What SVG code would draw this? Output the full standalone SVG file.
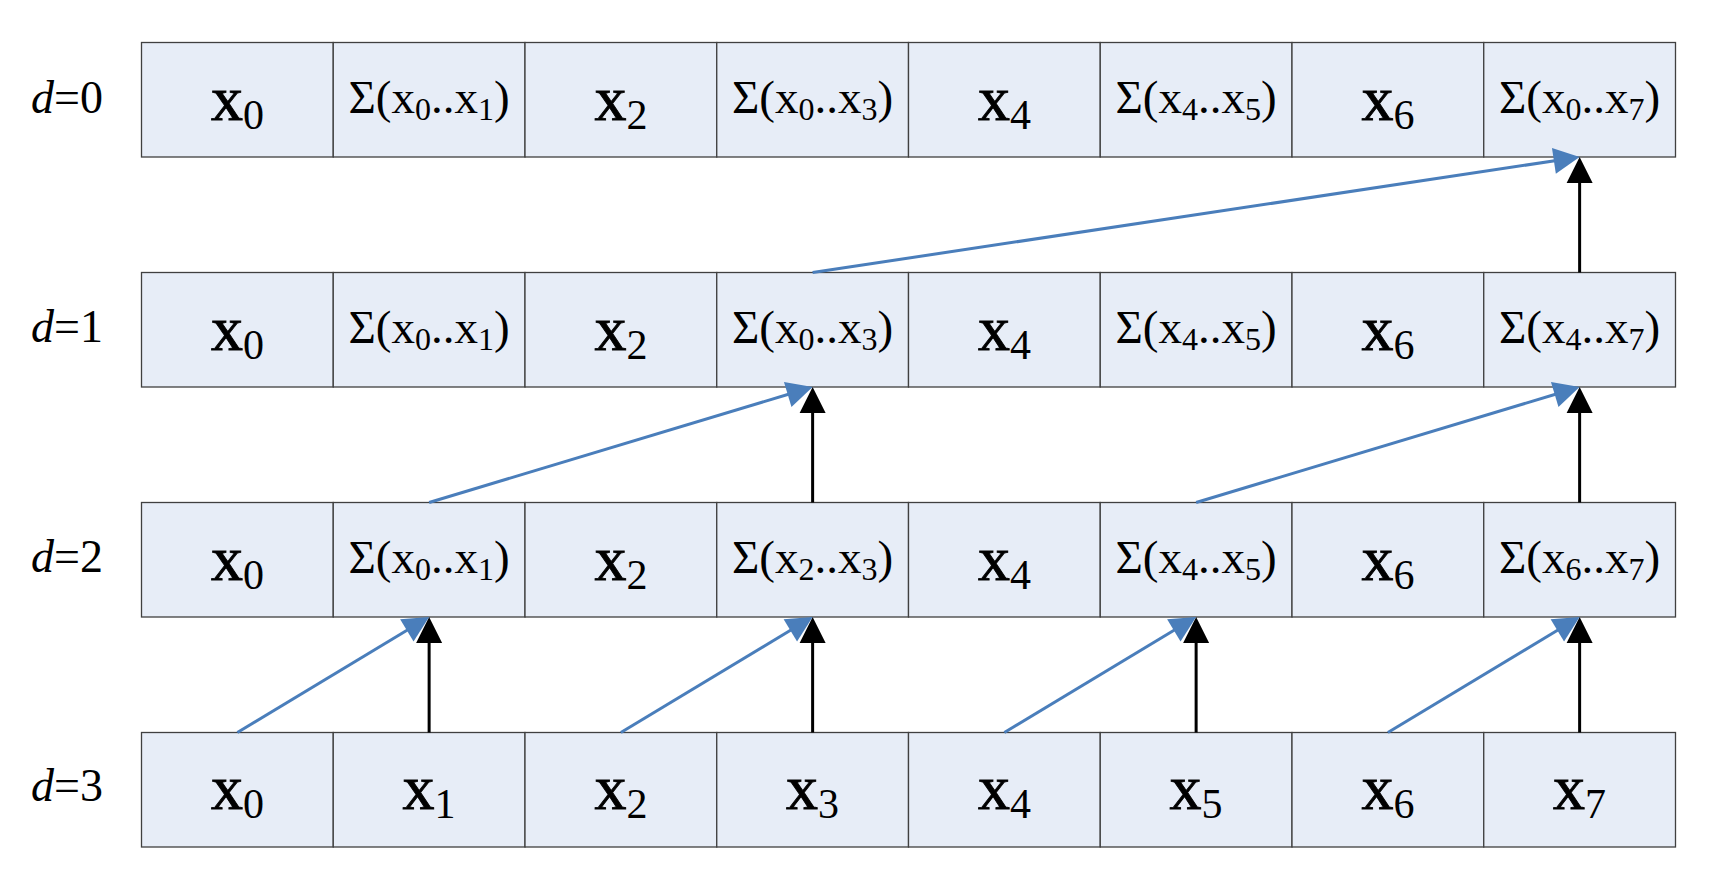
<svg xmlns="http://www.w3.org/2000/svg" width="1718" height="886" viewBox="0 0 1718 886">
<style>
.cell{fill:#E7EDF7;stroke:#404040;stroke-width:1.3}
.t{font-family:"Liberation Serif","Times New Roman",serif;fill:#000;text-anchor:middle}
.bx{font-size:64px;stroke:#000;stroke-width:0.9}
.bs{font-size:42px}
.sx{font-size:47px}
.ss{font-size:32px}
.lbl{font-family:"Liberation Serif","Times New Roman",serif;font-size:46px;fill:#000}
.blue{stroke:#4A7EBB;stroke-width:3;fill:none;marker-end:url(#ab)}
.black{stroke:#000;stroke-width:3;fill:none;marker-end:url(#ak)}
</style>
<defs>
<marker id="ab" markerUnits="userSpaceOnUse" markerWidth="26" markerHeight="26" refX="6" refY="13" orient="auto" overflow="visible"><path d="M0,0 L26,13 L0,26 Z" fill="#4A7EBB"/></marker>
<marker id="ak" markerUnits="userSpaceOnUse" markerWidth="26" markerHeight="26" refX="6" refY="13" orient="auto" overflow="visible"><path d="M0,0 L26,13 L0,26 Z" fill="#000"/></marker>
</defs>
<rect width="1718" height="886" fill="#fff"/>

<g id="labels">
<text class="lbl" x="31" y="113"><tspan font-style="italic">d</tspan>=0</text>
<text class="lbl" x="31" y="342"><tspan font-style="italic">d</tspan>=1</text>
<text class="lbl" x="31" y="572"><tspan font-style="italic">d</tspan>=2</text>
<text class="lbl" x="31" y="801"><tspan font-style="italic">d</tspan>=3</text>
</g>

<g id="row0">
<rect class="cell" x="141.5" y="42.5" width="191.75" height="114.5"/>
<rect class="cell" x="333.25" y="42.5" width="191.75" height="114.5"/>
<rect class="cell" x="525" y="42.5" width="191.75" height="114.5"/>
<rect class="cell" x="716.75" y="42.5" width="191.75" height="114.5"/>
<rect class="cell" x="908.5" y="42.5" width="191.75" height="114.5"/>
<rect class="cell" x="1100.25" y="42.5" width="191.75" height="114.5"/>
<rect class="cell" x="1292" y="42.5" width="191.75" height="114.5"/>
<rect class="cell" x="1483.75" y="42.5" width="191.75" height="114.5"/>
<text class="t" x="237.4" y="119.5"><tspan class="bx">x</tspan><tspan class="bs" dy="9">0</tspan></text>
<text class="t" x="429.1" y="113"><tspan class="sx">Σ(x</tspan><tspan class="ss" dy="7">0</tspan><tspan class="sx" dy="-7">..x</tspan><tspan class="ss" dy="7">1</tspan><tspan class="sx" dy="-7">)</tspan></text>
<text class="t" x="620.9" y="119.5"><tspan class="bx">x</tspan><tspan class="bs" dy="9">2</tspan></text>
<text class="t" x="812.6" y="113"><tspan class="sx">Σ(x</tspan><tspan class="ss" dy="7">0</tspan><tspan class="sx" dy="-7">..x</tspan><tspan class="ss" dy="7">3</tspan><tspan class="sx" dy="-7">)</tspan></text>
<text class="t" x="1004.4" y="119.5"><tspan class="bx">x</tspan><tspan class="bs" dy="9">4</tspan></text>
<text class="t" x="1196.1" y="113"><tspan class="sx">Σ(x</tspan><tspan class="ss" dy="7">4</tspan><tspan class="sx" dy="-7">..x</tspan><tspan class="ss" dy="7">5</tspan><tspan class="sx" dy="-7">)</tspan></text>
<text class="t" x="1387.9" y="119.5"><tspan class="bx">x</tspan><tspan class="bs" dy="9">6</tspan></text>
<text class="t" x="1579.6" y="113"><tspan class="sx">Σ(x</tspan><tspan class="ss" dy="7">0</tspan><tspan class="sx" dy="-7">..x</tspan><tspan class="ss" dy="7">7</tspan><tspan class="sx" dy="-7">)</tspan></text>
</g>

<g id="row1">
<rect class="cell" x="141.5" y="272.5" width="191.75" height="114.5"/>
<rect class="cell" x="333.25" y="272.5" width="191.75" height="114.5"/>
<rect class="cell" x="525" y="272.5" width="191.75" height="114.5"/>
<rect class="cell" x="716.75" y="272.5" width="191.75" height="114.5"/>
<rect class="cell" x="908.5" y="272.5" width="191.75" height="114.5"/>
<rect class="cell" x="1100.25" y="272.5" width="191.75" height="114.5"/>
<rect class="cell" x="1292" y="272.5" width="191.75" height="114.5"/>
<rect class="cell" x="1483.75" y="272.5" width="191.75" height="114.5"/>
<text class="t" x="237.4" y="349.5"><tspan class="bx">x</tspan><tspan class="bs" dy="9">0</tspan></text>
<text class="t" x="429.1" y="343"><tspan class="sx">Σ(x</tspan><tspan class="ss" dy="7">0</tspan><tspan class="sx" dy="-7">..x</tspan><tspan class="ss" dy="7">1</tspan><tspan class="sx" dy="-7">)</tspan></text>
<text class="t" x="620.9" y="349.5"><tspan class="bx">x</tspan><tspan class="bs" dy="9">2</tspan></text>
<text class="t" x="812.6" y="343"><tspan class="sx">Σ(x</tspan><tspan class="ss" dy="7">0</tspan><tspan class="sx" dy="-7">..x</tspan><tspan class="ss" dy="7">3</tspan><tspan class="sx" dy="-7">)</tspan></text>
<text class="t" x="1004.4" y="349.5"><tspan class="bx">x</tspan><tspan class="bs" dy="9">4</tspan></text>
<text class="t" x="1196.1" y="343"><tspan class="sx">Σ(x</tspan><tspan class="ss" dy="7">4</tspan><tspan class="sx" dy="-7">..x</tspan><tspan class="ss" dy="7">5</tspan><tspan class="sx" dy="-7">)</tspan></text>
<text class="t" x="1387.9" y="349.5"><tspan class="bx">x</tspan><tspan class="bs" dy="9">6</tspan></text>
<text class="t" x="1579.6" y="343"><tspan class="sx">Σ(x</tspan><tspan class="ss" dy="7">4</tspan><tspan class="sx" dy="-7">..x</tspan><tspan class="ss" dy="7">7</tspan><tspan class="sx" dy="-7">)</tspan></text>
</g>

<g id="row2">
<rect class="cell" x="141.5" y="502.5" width="191.75" height="114.5"/>
<rect class="cell" x="333.25" y="502.5" width="191.75" height="114.5"/>
<rect class="cell" x="525" y="502.5" width="191.75" height="114.5"/>
<rect class="cell" x="716.75" y="502.5" width="191.75" height="114.5"/>
<rect class="cell" x="908.5" y="502.5" width="191.75" height="114.5"/>
<rect class="cell" x="1100.25" y="502.5" width="191.75" height="114.5"/>
<rect class="cell" x="1292" y="502.5" width="191.75" height="114.5"/>
<rect class="cell" x="1483.75" y="502.5" width="191.75" height="114.5"/>
<text class="t" x="237.4" y="579.5"><tspan class="bx">x</tspan><tspan class="bs" dy="9">0</tspan></text>
<text class="t" x="429.1" y="573"><tspan class="sx">Σ(x</tspan><tspan class="ss" dy="7">0</tspan><tspan class="sx" dy="-7">..x</tspan><tspan class="ss" dy="7">1</tspan><tspan class="sx" dy="-7">)</tspan></text>
<text class="t" x="620.9" y="579.5"><tspan class="bx">x</tspan><tspan class="bs" dy="9">2</tspan></text>
<text class="t" x="812.6" y="573"><tspan class="sx">Σ(x</tspan><tspan class="ss" dy="7">2</tspan><tspan class="sx" dy="-7">..x</tspan><tspan class="ss" dy="7">3</tspan><tspan class="sx" dy="-7">)</tspan></text>
<text class="t" x="1004.4" y="579.5"><tspan class="bx">x</tspan><tspan class="bs" dy="9">4</tspan></text>
<text class="t" x="1196.1" y="573"><tspan class="sx">Σ(x</tspan><tspan class="ss" dy="7">4</tspan><tspan class="sx" dy="-7">..x</tspan><tspan class="ss" dy="7">5</tspan><tspan class="sx" dy="-7">)</tspan></text>
<text class="t" x="1387.9" y="579.5"><tspan class="bx">x</tspan><tspan class="bs" dy="9">6</tspan></text>
<text class="t" x="1579.6" y="573"><tspan class="sx">Σ(x</tspan><tspan class="ss" dy="7">6</tspan><tspan class="sx" dy="-7">..x</tspan><tspan class="ss" dy="7">7</tspan><tspan class="sx" dy="-7">)</tspan></text>
</g>

<g id="row3">
<rect class="cell" x="141.5" y="732.5" width="191.75" height="114.5"/>
<rect class="cell" x="333.25" y="732.5" width="191.75" height="114.5"/>
<rect class="cell" x="525" y="732.5" width="191.75" height="114.5"/>
<rect class="cell" x="716.75" y="732.5" width="191.75" height="114.5"/>
<rect class="cell" x="908.5" y="732.5" width="191.75" height="114.5"/>
<rect class="cell" x="1100.25" y="732.5" width="191.75" height="114.5"/>
<rect class="cell" x="1292" y="732.5" width="191.75" height="114.5"/>
<rect class="cell" x="1483.75" y="732.5" width="191.75" height="114.5"/>
<text class="t" x="237.4" y="808.5"><tspan class="bx">x</tspan><tspan class="bs" dy="9">0</tspan></text>
<text class="t" x="429.1" y="808.5"><tspan class="bx">x</tspan><tspan class="bs" dy="9">1</tspan></text>
<text class="t" x="620.9" y="808.5"><tspan class="bx">x</tspan><tspan class="bs" dy="9">2</tspan></text>
<text class="t" x="812.6" y="808.5"><tspan class="bx">x</tspan><tspan class="bs" dy="9">3</tspan></text>
<text class="t" x="1004.4" y="808.5"><tspan class="bx">x</tspan><tspan class="bs" dy="9">4</tspan></text>
<text class="t" x="1196.1" y="808.5"><tspan class="bx">x</tspan><tspan class="bs" dy="9">5</tspan></text>
<text class="t" x="1387.9" y="808.5"><tspan class="bx">x</tspan><tspan class="bs" dy="9">6</tspan></text>
<text class="t" x="1579.6" y="808.5"><tspan class="bx">x</tspan><tspan class="bs" dy="9">7</tspan></text>
</g>

<g id="connectors">
<line class="black" x1="429.125" y1="732.5" x2="429.125" y2="637"/>
<line class="black" x1="812.625" y1="732.5" x2="812.625" y2="637"/>
<line class="black" x1="1196.125" y1="732.5" x2="1196.125" y2="637"/>
<line class="black" x1="1579.625" y1="732.5" x2="1579.625" y2="637"/>
<line class="black" x1="812.625" y1="502.5" x2="812.625" y2="407"/>
<line class="black" x1="1579.625" y1="502.5" x2="1579.625" y2="407"/>
<line class="black" x1="1579.625" y1="272.5" x2="1579.625" y2="177"/>
<line class="blue" x1="237.375" y1="732.5" x2="411.99" y2="627.32"/>
<line class="blue" x1="620.875" y1="732.5" x2="795.49" y2="627.32"/>
<line class="blue" x1="1004.375" y1="732.5" x2="1178.99" y2="627.32"/>
<line class="blue" x1="1387.875" y1="732.5" x2="1562.49" y2="627.32"/>
<line class="blue" x1="429.125" y1="502.5" x2="793.47" y2="392.77"/>
<line class="blue" x1="1196.125" y1="502.5" x2="1560.47" y2="392.77"/>
<line class="blue" x1="812.625" y1="272.5" x2="1559.85" y2="159.98"/>
</g>
</svg>
